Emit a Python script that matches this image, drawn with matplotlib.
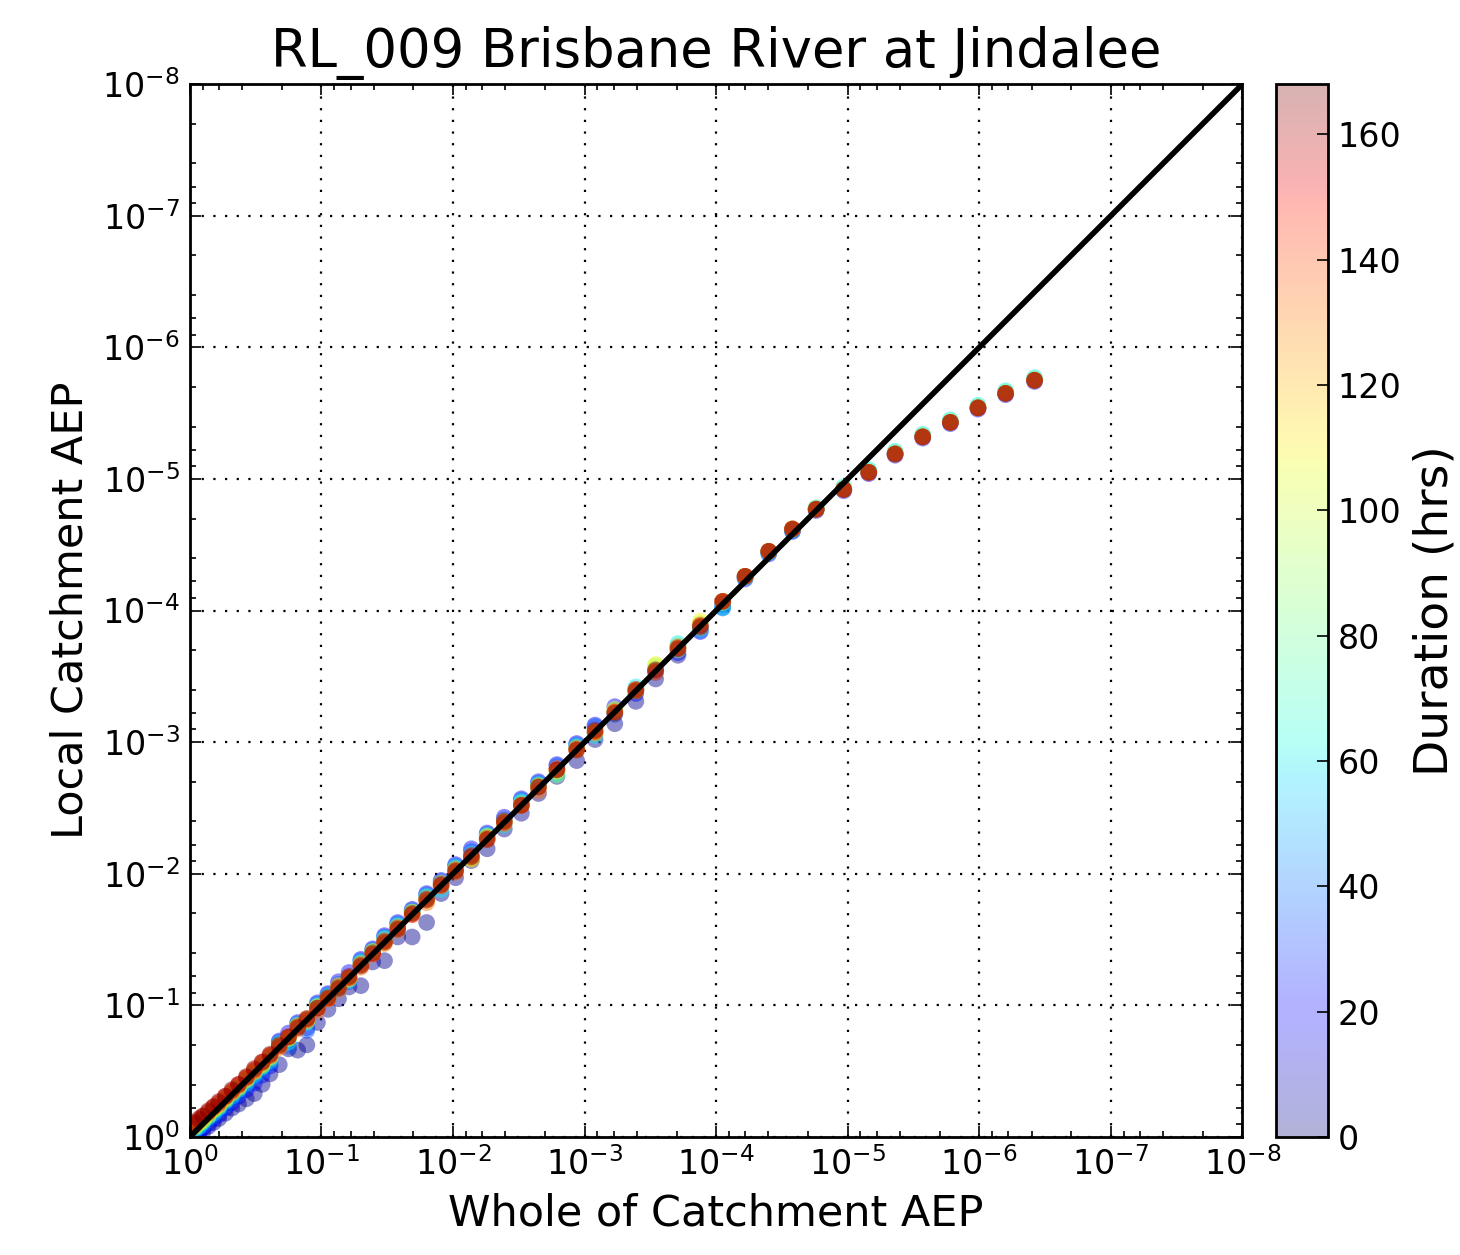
import matplotlib
matplotlib.use('Agg')
import matplotlib.pyplot as plt
import numpy as np
from matplotlib.ticker import LogLocator, NullFormatter

plt.rcParams['axes.unicode_minus'] = False

# whole-of-catchment AEP for each event, as -log10(AEP)
whole_log = [0.04, 0.07, 0.10, 0.14, 0.18, 0.22, 0.27, 0.32, 0.37, 0.43, 0.49, 0.55, 0.61,
             0.68, 0.75, 0.82, 0.89, 0.97, 1.05, 1.13, 1.21, 1.30, 1.39, 1.48,
             1.58, 1.69, 1.80, 1.91, 2.02, 2.14, 2.26, 2.39, 2.52, 2.65, 2.79, 2.94, 3.08, 3.23, 3.39, 3.54, 3.71,
             3.88, 4.05, 4.22, 4.40, 4.58, 4.76, 4.97, 5.16, 5.36, 5.57, 5.78, 5.99, 6.20, 6.42]

# local catchment AEP, read as offset (decades) from the 1:1 line, one list per duration
off_3h = [-.04, -.05, -.06, -.06, -.07, -.08, -.09, -.10, -.12, -.14, -.16, -.15, -.13,
          -.13, -.08, -.16, -.19, -.10, -.08, -.08, -.07, -.15, -.06, -.14,
          -.06, -.17, -.17, -.06, -.05, -.04, -.07, -.05, -.06, -.04, -.05, -.08, -.06, -.09, -.08, -.06, -.05,
          -.01, .00, .04, .05, .03, .01, -.05, -.11, -.17, -.25, -.35, -.45, -.55, -.67]
off_18h = [-.02, -.03, -.03, -.04, -.04, -.05, -.05, -.06, -.06, -.07, -.08, -.08, -.07,
           .05, .04, .05, -.06, .05, .04, .05, .04, .05, .04, .05,
           .05, .04, .05, .04, .05, .05, .05, .04, .05, .05, .04, .05, .05, .04, -.02, -.01, -.03,
           -.04, -.03, .02, .03, .02, .00, -.06, -.12, -.18, -.26, -.36, -.46, -.56, -.68]
off_36h = [.00, .00, -.01, -.01, -.02, -.02, -.03, -.03, -.04, -.04, -.04, -.05, -.05,
           .04, -.06, .04, -.08, .04, .03, .03, -.03, .04, .03, .04,
           .04, .03, .04, .03, .04, .03, .04, .02, .04, .04, .03, .04, .04, -.02, .01, .01, .02,
           -.03, -.02, .03, .04, .03, .01, -.05, -.11, -.17, -.25, -.35, -.45, -.55, -.67]
off_60h = [.02, .01, .01, .01, .00, .00, .00, -.01, -.01, -.02, -.02, -.02, -.03,
           .03, -.03, .03, -.02, .03, .02, .00, -.02, .03, .02, .03,
           .03, .02, .03, -.03, .03, .01, .03, -.02, .03, .03, -.03, .03, -.03, .01, .03, .00, .04,
           -.02, -.03, .03, .04, .03, .02, -.03, -.09, -.15, -.23, -.33, -.43, -.53, -.65]
off_84h = [.03, .03, .02, .02, .02, .01, .01, .01, .00, .00, .00, -.01, -.01,
           .02, .00, .03, .00, .02, .01, .01, .00, .02, .01, .02,
           .02, .01, .02, .00, .02, -.02, .03, .00, .02, .01, -.04, .02, -.01, .00, .01, .04, -.01,
           .02, .01, .04, .05, .04, .02, -.04, -.10, -.16, -.24, -.34, -.44, -.54, -.66]
off_108h = [.04, .04, .03, .03, .03, .02, .02, .02, .01, .01, .01, .00, .00,
            .01, .00, .02, -.01, .02, .00, .02, -.01, .01, .02, .00,
            .01, .02, .00, .02, .01, -.03, .02, .01, .00, .02, -.01, .01, .00, .02, .00, .05, .02,
            .04, .02, .04, .05, .04, .01, -.05, -.11, -.17, -.25, -.35, -.45, -.55, -.67]
off_132h = [.05, .05, .05, .04, .04, .03, .03, .02, .02, .02, .01, .01, .01,
            .00, .01, .00, .01, -.01, .00, -.01, .00, -.01, .00, -.01,
            -.01, .00, -.02, .00, -.01, -.02, .00, -.01, .00, -.02, .01, .00, -.01, .00, .01, -.01, .00,
            -.01, .02, .04, .05, .04, .01, -.05, -.11, -.17, -.25, -.35, -.45, -.55, -.67]
off_150h = [.06, .06, .06, .05, .05, .04, .04, .03, .03, .02, .02, .02, .01,
            .01, .01, .02, .00, .01, .00, .01, .00, .01, .00, .01,
            .01, .00, .01, .00, .01, .00, .01, .00, .00, .01, .00, .01, .00, .00, .01, .00, .01,
            .01, .02, .04, .05, .04, .01, -.05, -.11, -.17, -.25, -.35, -.45, -.55, -.67]
off_168h = [.07, .07, .06, .06, .05, .05, .04, .04, .03, .03, .03, .02, .02,
            .02, .01, .01, .01, .01, .01, .00, .01, .00, .01, .00,
            .00, .01, .00, .01, .00, -.01, .00, .01, .00, .01, .00, .00, .01, -.01, .00, .01, .00,
            .00, .02, .04, .05, .04, .01, -.05, -.11, -.17, -.25, -.35, -.45, -.55, -.67]

durations = [3, 18, 36, 60, 84, 108, 132, 150, 168]
offsets = [off_3h, off_18h, off_36h, off_60h, off_84h, off_108h, off_132h, off_150h, off_168h]

cbar_ticks = [0, 20, 40, 60, 80, 100, 120, 140, 160]

fig = plt.figure(figsize=(7.3, 6.275), dpi=200)
ax = fig.add_axes([0.130, 0.094, 0.721, 0.839])
cax = fig.add_axes([0.874, 0.094, 0.0356, 0.839])

whole = 10.0 ** -np.array(whole_log)
for dur, off in zip(durations, offsets):
    local = 10.0 ** -(np.array(whole_log) + np.array(off))
    sc = ax.scatter(whole, local, c=[dur] * len(whole), cmap='jet', vmin=0, vmax=168,
                    s=36, alpha=0.45, linewidths=0, zorder=2)

ax.plot([1, 1e-8], [1, 1e-8], 'k-', lw=2, zorder=3)

ax.set_xscale('log')
ax.set_yscale('log')
ax.set_xlim(1, 1e-8)
ax.set_ylim(1, 1e-8)
for axis in (ax.xaxis, ax.yaxis):
    axis.set_major_locator(LogLocator(base=10, numticks=20))
    axis.set_minor_locator(LogLocator(base=10, subs=[2, 4, 6, 8], numticks=100))
    axis.set_minor_formatter(NullFormatter())
ax.tick_params(which='both', direction='in', top=True, right=True, labelsize=12)
ax.tick_params(which='major', length=4, width=0.6)
ax.tick_params(which='minor', length=2, width=0.6)
ax.grid(True, which='major', color='k', linestyle=(0, (1, 4.25)), linewidth=0.8)
ax.set_axisbelow(True)
for sp in ax.spines.values():
    sp.set_linewidth(1.0)

ax.set_title('RL_009 Brisbane River at Jindalee', fontsize=19)
ax.set_xlabel('Whole of Catchment AEP', fontsize=15.5)
ax.set_ylabel('Local Catchment AEP', fontsize=15.5)

cb = fig.colorbar(sc, cax=cax, ticks=cbar_ticks)
cb.solids.set_alpha(0.3)
cb.set_label('Duration (hrs)', fontsize=17)
cb.outline.set_linewidth(1.0)
cax.tick_params(direction='in', labelsize=12, length=4, width=0.6)

fig.savefig('out.png', dpi=200)
